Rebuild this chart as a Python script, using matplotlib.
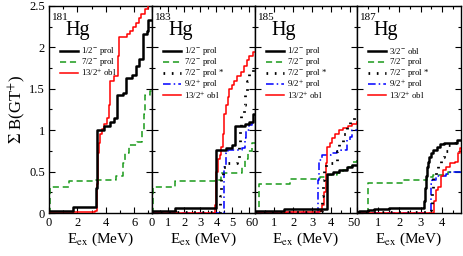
import matplotlib
matplotlib.use("Agg")
import matplotlib.pyplot as plt
from matplotlib.ticker import MultipleLocator

plt.rcParams['font.family'] = ['Liberation Serif', 'DejaVu Serif']
plt.rcParams['mathtext.fontset'] = 'stix'

# ---------------- data (E in MeV, cumulative B(GT+)) ----------------
# 181Hg
e181_p12 = [0, 0.3, 1.7, 3.3, 3.4, 3.9, 4.3, 4.55, 4.8, 5.2, 5.4, 5.85, 6.1, 6.3, 6.6, 6.9, 7.0, 7.25]
b181_p12 = [0.02, 0.03, 0.07, 0.3, 1.0, 1.05, 1.10, 1.15, 1.43, 1.45, 1.63, 1.67, 1.78, 1.86, 2.16, 2.2, 2.33, 2.33]
e181_p72 = [0, 0.05, 1.4, 3.3, 4.7, 5.2, 5.35, 5.6, 6.2, 6.55, 6.7, 6.75, 7.1, 7.25]
b181_p72 = [0.0, 0.32, 0.39, 0.40, 0.45, 0.6, 0.72, 0.82, 0.86, 1.0, 1.2, 1.43, 1.47, 1.47]
e181_o132 = [0, 1.7, 3.25, 3.35, 3.42, 3.5, 3.6, 3.75, 3.9, 4.05, 4.2, 4.3, 4.6, 4.85, 4.95, 5.5, 5.7, 5.9, 6.1, 6.3, 6.5, 6.75, 6.95, 7.25]
b181_o132 = [0.0, 0.01, 0.02, 0.35, 0.72, 0.85, 0.95, 1.02, 1.08, 1.15, 1.3, 1.6, 1.65, 1.9, 2.13, 2.16, 2.2, 2.25, 2.3, 2.36, 2.4, 2.46, 2.52, 2.52]

# 183Hg
e183_p12 = [0, 1.45, 3.95, 4.6, 5.0, 5.15, 5.75, 6.05, 6.25, 6.4]
b183_p12 = [0.03, 0.065, 0.76, 0.79, 0.82, 1.05, 1.08, 1.1, 1.2, 1.2]
e183_p72 = [0, 0.05, 1.4, 3.9, 4.3, 5.6, 5.75, 5.95, 6.2, 6.4]
b183_p72 = [0.0, 0.32, 0.39, 0.40, 0.48, 0.55, 0.65, 0.75, 0.85, 0.85]
e183_p72s = [0, 4.2, 4.25, 4.3, 4.4, 4.6, 5.3, 5.4, 5.45, 5.5, 5.7, 5.8, 5.9, 6.05, 6.25, 6.4]
b183_p72s = [0.01, 0.02, 0.2, 0.45, 0.55, 0.6, 0.62, 0.8, 1.0, 1.2, 1.3, 1.45, 1.6, 1.7, 1.75, 1.75]
e183_p92 = [0, 4.4, 4.45, 4.5, 4.6, 4.7, 5.6, 5.75, 5.85, 6.0, 6.2, 6.4]
b183_p92 = [0.0, 0.0, 0.3, 0.55, 0.72, 0.76, 0.78, 0.9, 1.0, 1.06, 1.1, 1.1]
e183_o132 = [0, 3.85, 3.9, 3.95, 4.0, 4.1, 4.2, 4.3, 4.4, 4.45, 4.5, 4.6, 4.7, 4.8, 5.0, 5.1, 5.3, 5.5, 5.7, 5.9, 6.05, 6.25, 6.4]
b183_o132 = [0.0, 0.0, 0.1, 0.3, 0.5, 0.65, 0.7, 0.8, 0.95, 1.05, 1.2, 1.3, 1.4, 1.5, 1.55, 1.6, 1.65, 1.7, 1.78, 1.85, 1.9, 1.95, 1.95]

# 185Hg
e185_p12 = [0, 1.5, 3.8, 4.1, 4.4, 4.8, 5.1, 5.35]
b185_p12 = [0.02, 0.05, 0.47, 0.5, 0.52, 0.55, 0.58, 0.58]
e185_p72 = [0, 0.23, 1.85, 3.4, 3.7, 4.3, 4.6, 4.9, 5.1, 5.35]
b185_p72 = [0.0, 0.35, 0.41, 0.44, 0.46, 0.48, 0.52, 0.56, 0.62, 0.64]
e185_p72s = [0, 3.45, 3.5, 3.55, 3.6, 3.7, 4.2, 4.3, 4.4, 4.6, 4.8, 5.0, 5.2, 5.35]
b185_p72s = [0.01, 0.02, 0.2, 0.4, 0.55, 0.6, 0.62, 0.75, 0.85, 0.95, 1.05, 1.12, 1.18, 1.18]
e185_p92 = [0, 3.28, 3.3, 3.35, 3.5, 4.0, 4.3, 4.5, 4.8, 5.0, 5.1, 5.35]
b185_p92 = [0.0, 0.0, 0.4, 0.64, 0.7, 0.72, 0.75, 0.76, 0.88, 0.92, 1.0, 1.0]
e185_o132 = [0, 1.6, 3.4, 3.5, 3.6, 3.7, 3.75, 3.8, 3.95, 4.05, 4.2, 4.4, 4.6, 4.9, 5.1, 5.35]
b185_o132 = [0.0, 0.01, 0.02, 0.1, 0.25, 0.35, 0.6, 0.8, 0.85, 0.9, 0.95, 1.0, 1.03, 1.05, 1.08, 1.1]

# 187Hg
e187_o32 = [0, 0.1, 0.5, 0.8, 1.5, 3.1, 3.15, 3.2, 3.25, 3.3, 3.35, 3.4, 3.5, 3.6, 3.75, 3.9, 4.1, 4.4, 4.7, 4.9]
b187_o32 = [0.0, 0.02, 0.04, 0.05, 0.055, 0.06, 0.15, 0.3, 0.45, 0.55, 0.62, 0.68, 0.72, 0.76, 0.8, 0.83, 0.84, 0.85, 0.88, 0.88]
e187_p72 = [0, 0.5, 2.15, 3.3, 3.6, 4.3, 4.9]
b187_p72 = [0.0, 0.36, 0.40, 0.43, 0.46, 0.5, 0.51]
e187_p72s = [0, 3.45, 3.5, 3.55, 3.6, 3.7, 3.8, 3.95, 4.1, 4.3, 4.6, 4.9]
b187_p72s = [0.01, 0.01, 0.1, 0.3, 0.45, 0.5, 0.58, 0.68, 0.75, 0.82, 0.85, 0.87]
e187_p92 = [0, 3.45, 3.47, 3.5, 3.55, 3.7, 4.2, 4.4, 4.9]
b187_p92 = [0.0, 0.0, 0.2, 0.35, 0.4, 0.45, 0.47, 0.5, 0.52]
e187_o132 = [0, 3.6, 3.65, 3.7, 3.8, 3.95, 4.05, 4.2, 4.4, 4.6, 4.75, 4.85, 4.9]
b187_o132 = [0.0, 0.0, 0.15, 0.28, 0.32, 0.45, 0.52, 0.56, 0.6, 0.62, 0.72, 0.78, 0.78]

nuclei = ['181', '183', '185', '187']
xlims = [7.25, 6.4, 5.35, 4.9]
xmajor = [2, 1, 1, 1]
xminor = [1, 0.5, 0.5, 0.5]

GREEN = '#1a9a1a'
styles = {
    'p12': dict(color='black', lw=1.8, ls='-'),
    'o32': dict(color='black', lw=1.8, ls='-'),
    'p72': dict(color=GREEN, lw=1.1, ls=(0, (4, 2.5))),
    'p72s': dict(color='black', lw=2.0, ls=(0, (0.6, 2.4)), dash_capstyle='butt'),
    'p92': dict(color='blue', lw=1.1, ls=(0, (5, 2, 1, 2))),
    'o132': dict(color='red', lw=1.1, ls='-'),
}
labels = {
    'p12': r'1/2$^{-}$ prol',
    'o32': r'3/2$^{-}$ obl',
    'p72': r'7/2$^{-}$ prol',
    'p72s': r'7/2$^{-}$ prol *',
    'p92': r'9/2$^{+}$ prol',
    'o132': r'13/2$^{+}$ obl',
}
panels = [
    [('p12', e181_p12, b181_p12), ('p72', e181_p72, b181_p72), ('o132', e181_o132, b181_o132)],
    [('p12', e183_p12, b183_p12), ('p72', e183_p72, b183_p72), ('p72s', e183_p72s, b183_p72s),
     ('p92', e183_p92, b183_p92), ('o132', e183_o132, b183_o132)],
    [('p12', e185_p12, b185_p12), ('p72', e185_p72, b185_p72), ('p72s', e185_p72s, b185_p72s),
     ('p92', e185_p92, b185_p92), ('o132', e185_o132, b185_o132)],
    [('o32', e187_o32, b187_o32), ('p72', e187_p72, b187_p72), ('p72s', e187_p72s, b187_p72s),
     ('p92', e187_p92, b187_p92), ('o132', e187_o132, b187_o132)],
]
zorders = {'p72': 2, 'p92': 3, 'o132': 4, 'p72s': 5, 'p12': 6, 'o32': 6}

W, H = 463, 256
fig = plt.figure(figsize=(W / 100, H / 100), dpi=100)
lefts = [49, 152, 255, 357]
rights = [152, 255, 357, 461]
top, bot = 6, 213
ph = bot - top
row_offsets = [0, 10.7, 21.4, 33.0, 44.2]

for i, (nuc, series) in enumerate(zip(nuclei, panels)):
    pw = rights[i] - lefts[i]
    ax = fig.add_axes([lefts[i] / W, 1 - bot / H, pw / W, ph / H])
    for key, e, b in series:
        ax.plot(e, b, drawstyle='steps-post', zorder=zorders[key], **styles[key])
    ax.set_xlim(0, xlims[i])
    ax.set_ylim(0, 2.5)
    ax.xaxis.set_major_locator(MultipleLocator(xmajor[i]))
    ax.xaxis.set_minor_locator(MultipleLocator(xminor[i]))
    ax.yaxis.set_major_locator(MultipleLocator(0.5))
    ax.yaxis.set_minor_locator(MultipleLocator(0.25))
    ax.tick_params(which='both', direction='in', top=True, right=True, labelsize=9, pad=3)
    ax.tick_params(which='major', length=4, width=0.8)
    ax.tick_params(which='minor', length=2, width=0.8)
    for sp in ax.spines.values():
        sp.set_linewidth(1.0)
    if i == 0:
        ax.set_ylabel(r'$\Sigma$ B(GT$^{+}$)', fontsize=12, labelpad=1)
        ax.yaxis.set_major_formatter(plt.FuncFormatter(lambda v, p: ('%g' % v)))
    else:
        ax.set_yticklabels([])
    ax.set_xlabel(r'E$_{\rm ex}$ (MeV)', fontsize=11, labelpad=1)
    # nucleus label
    ax.text(0.03, 1 - 7 / ph, nuc, transform=ax.transAxes, fontsize=8, va='top', ha='left')
    ax.text(0.16, 1 - 15 / ph, 'Hg', transform=ax.transAxes, fontsize=14.5, va='top', ha='left')
    # legend (drawn manually for exact row spacing)
    y0 = 51.3 - top
    for j, (key, e, b) in enumerate(series):
        yy = 1 - (y0 + row_offsets[j]) / ph
        ax.plot([11 / pw, 29 / pw], [yy, yy], transform=ax.transAxes, clip_on=False, **styles[key])
        ax.text(32 / pw, yy, labels[key], transform=ax.transAxes, fontsize=6.3,
                va='center', ha='left')

fig.savefig('out.png', dpi=100)
